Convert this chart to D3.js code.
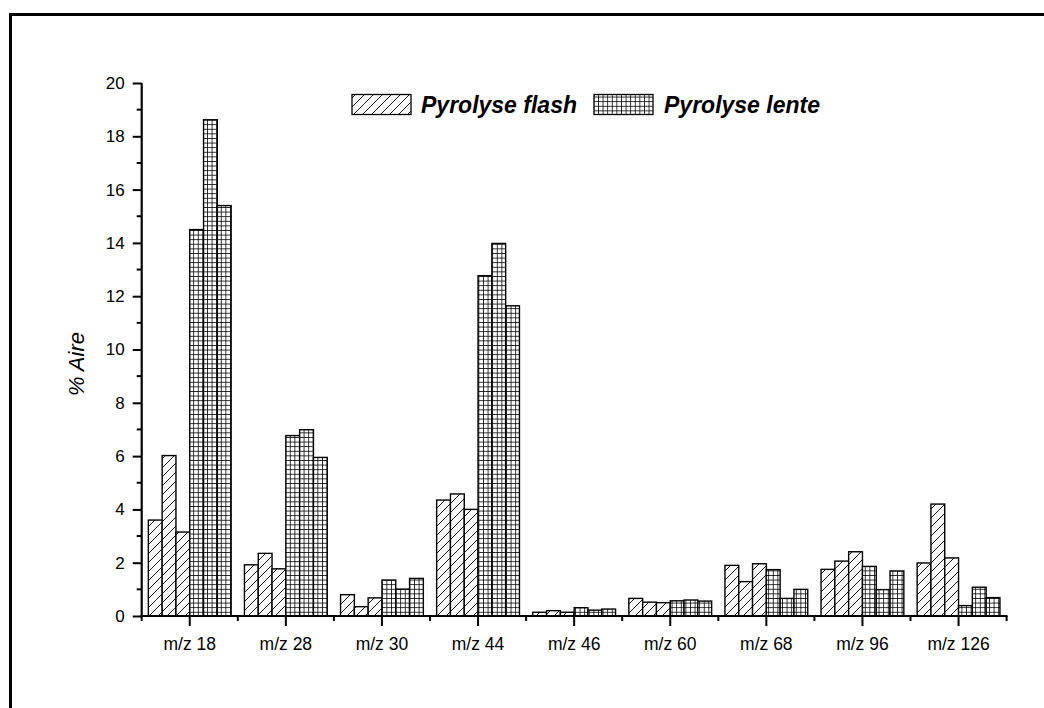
<!DOCTYPE html>
<html>
<head>
<meta charset="utf-8">
<script src="https://cdn.jsdelivr.net/npm/d3@7"></script>
<style>
  html, body { margin: 0; padding: 0; background: #fff; }
  svg { display: block; font-family: "Liberation Sans", Arial, sans-serif; }
</style>
</head>
<body>
<svg id="chart" width="1044" height="708"></svg>
<script>
// ---- data ----
const categories = ["m/z 18", "m/z 28", "m/z 30", "m/z 44", "m/z 46", "m/z 60", "m/z 68", "m/z 96", "m/z 126"];
const flash1 = [3.60, 1.92, 0.80, 4.35, 0.14, 0.66, 1.90, 1.75, 1.99];
const flash2 = [6.02, 2.35, 0.35, 4.58, 0.20, 0.52, 1.29, 2.06, 4.20];
const flash3 = [3.15, 1.77, 0.68, 4.00, 0.14, 0.50, 1.96, 2.41, 2.18];
const lente1 = [14.50, 6.77, 1.35, 12.77, 0.31, 0.57, 1.74, 1.86, 0.39];
const lente2 = [18.62, 6.99, 1.01, 13.98, 0.22, 0.60, 0.66, 0.99, 1.08];
const lente3 = [15.40, 5.95, 1.41, 11.64, 0.26, 0.56, 1.00, 1.69, 0.69];
const yTicks = [0, 2, 4, 6, 8, 10, 12, 14, 16, 18, 20];
const legendLabels = ["Pyrolyse flash", "Pyrolyse lente"];

const seriesList = [
  {values: flash1, kind: "flash"},
  {values: flash2, kind: "flash"},
  {values: flash3, kind: "flash"},
  {values: lente1, kind: "lente"},
  {values: lente2, kind: "lente"},
  {values: lente3, kind: "lente"}
];

const svg = d3.select("#chart");

// frame
svg.append("rect")
  .attr("x", 10.5).attr("y", 14.5).attr("width", 1100).attr("height", 800)
  .attr("fill", "none").attr("stroke", "#000").attr("stroke-width", 3);

// patterns
const defs = svg.append("defs");
const hatch = defs.append("pattern").attr("id", "hatch")
  .attr("patternUnits", "userSpaceOnUse").attr("width", 9).attr("height", 9);
hatch.append("rect").attr("width", 9).attr("height", 9).attr("fill", "#fff");
hatch.append("path").attr("d", "M-1,10 L10,-1 M-4,4 L4,-4 M5,13 L13,5")
  .attr("stroke", "#000").attr("stroke-width", 0.9);

const grid = defs.append("pattern").attr("id", "grid")
  .attr("patternUnits", "userSpaceOnUse").attr("width", 4.6).attr("height", 4.6);
grid.append("rect").attr("width", 4.6).attr("height", 4.6).attr("fill", "#fff");
grid.append("path").attr("d", "M0,0.4 H4.6 M0.4,0 V4.6")
  .attr("stroke", "#000").attr("stroke-width", 0.85);

// scales
const x0 = 141.7, x1 = 1006.6;
const y = d3.scaleLinear().domain([0, 20]).range([616, 83]);
const x = d3.scaleBand().domain(categories).range([x0, x1]).padding(0);
const groupW = 82.8;
const gap = (x.bandwidth() - groupW) / 2;
const xs = d3.scaleBand().domain(d3.range(seriesList.length)).range([gap, x.bandwidth() - gap]).padding(0);

// bars
const g = svg.append("g");
seriesList.forEach((s, si) => {
  g.selectAll(null).data(s.values).enter().append("rect")
    .attr("x", (d, i) => x(categories[i]) + xs(si))
    .attr("y", d => y(d))
    .attr("width", xs.bandwidth())
    .attr("height", d => y(0) - y(d))
    .attr("fill", s.kind === "flash" ? "url(#hatch)" : "url(#grid)")
    .attr("stroke", "#000").attr("stroke-width", 1.4);
});

// y axis
const yAxis = svg.append("g").attr("transform", `translate(${x0},0)`)
  .call(d3.axisLeft(y).tickValues(yTicks).tickSize(9).tickPadding(8).tickFormat(d3.format("d")));
yAxis.select(".domain").remove();
yAxis.selectAll(".tick line").attr("stroke-width", 2);
yAxis.selectAll("text").attr("font-size", 17).attr("fill", "#000")
  .attr("font-family", "Liberation Sans, Arial, sans-serif");
// minor y ticks
svg.append("g").selectAll("line").data(d3.range(1, 20, 2)).enter().append("line")
  .attr("x1", x0 - 5).attr("x2", x0).attr("y1", d => y(d)).attr("y2", d => y(d))
  .attr("stroke", "#000").attr("stroke-width", 2);
svg.append("line").attr("x1", x0).attr("x2", x0).attr("y1", y(20)).attr("y2", y(0) + 1)
  .attr("stroke", "#000").attr("stroke-width", 2.2);

// x axis
const xAxis = svg.append("g").attr("transform", `translate(0,${y(0)})`)
  .call(d3.axisBottom(x).tickSize(10).tickPadding(0));
xAxis.select(".domain").remove();
xAxis.selectAll(".tick line").attr("stroke-width", 2);
xAxis.selectAll("text").attr("font-size", 17.5).attr("fill", "#000")
  .attr("y", 34).attr("dy", 0)
  .attr("font-family", "Liberation Sans, Arial, sans-serif");
// minor x ticks at band boundaries
const bounds = categories.map(c => x(c)).concat([x1]);
svg.append("g").selectAll("line").data(bounds).enter().append("line")
  .attr("x1", d => d).attr("x2", d => d).attr("y1", y(0)).attr("y2", y(0) + 5)
  .attr("stroke", "#000").attr("stroke-width", 2);
svg.append("line").attr("x1", x0 - 1).attr("x2", x1 + 1).attr("y1", y(0)).attr("y2", y(0))
  .attr("stroke", "#000").attr("stroke-width", 2.2);

// y label
svg.append("text")
  .attr("transform", "translate(84,364) rotate(-90)")
  .attr("text-anchor", "middle")
  .attr("font-size", 22).attr("font-style", "italic")
  .attr("font-family", "Liberation Sans, Arial, sans-serif")
  .text("% Aire");

// legend
const legendPos = [{sx: 352, tx: 421}, {sx: 594, tx: 664}];
legendLabels.forEach((lab, i) => {
  svg.append("rect").attr("x", legendPos[i].sx).attr("y", 94.5).attr("width", 59).attr("height", 20)
    .attr("fill", i === 0 ? "url(#hatch)" : "url(#grid)")
    .attr("stroke", "#000").attr("stroke-width", 1.3);
  svg.append("text").attr("x", legendPos[i].tx).attr("y", 113)
    .attr("font-size", 23).attr("font-weight", "bold").attr("font-style", "italic")
    .attr("font-family", "Liberation Sans, Arial, sans-serif")
    .text(lab);
});
</script>
</body>
</html>
